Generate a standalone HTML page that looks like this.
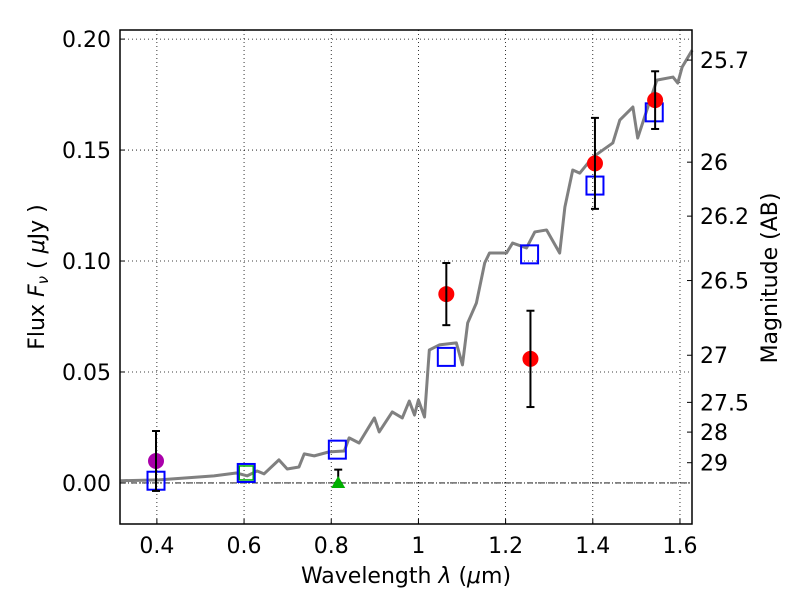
<!DOCTYPE html>
<html><head><meta charset="utf-8"><style>
body{margin:0;background:#fff}
svg{display:block;font-family:"DejaVu Sans","Liberation Sans",sans-serif}
</style></head><body>
<svg id="chart" width="800" height="600" viewBox="0 0 800 600" xmlns="http://www.w3.org/2000/svg">
<rect x="0" y="0" width="800" height="600" fill="#fff"/>
<g id="grid"></g>
<g id="plot"></g>
<g id="axes"></g>
<text x="406" y="583" font-size="22" text-anchor="middle">Wavelength  <tspan font-style="italic">λ</tspan> (<tspan font-style="italic">μ</tspan>m)</text>
<text transform="translate(44,277) rotate(-90)" font-size="22" text-anchor="middle">Flux  <tspan font-style="italic">F</tspan><tspan font-style="italic" font-size="15" dy="4">ν</tspan><tspan dy="-4">  ( </tspan><tspan font-style="italic">μ</tspan>Jy )</text>
<text transform="translate(777,278) rotate(-90)" font-size="22" text-anchor="middle">Magnitude (AB)</text>
</svg>
<script>
const xTicks=[0.4,0.6,0.8,1.0,1.2,1.4,1.6];
const xTickLabels=["0.4","0.6","0.8","1","1.2","1.4","1.6"];
const yTicks=[0,0.05,0.10,0.15,0.20];
const yTickLabels=["0.00","0.05","0.10","0.15","0.20"];
const magTicks=[25.7,26,26.2,26.5,27,27.5,28,29];
const magTickLabels=["25.7","26","26.2","26.5","27","27.5","28","29"];
const specLam=[0.317,0.405,0.531,0.582,0.607,0.630,0.646,0.680,0.699,0.726,0.738,0.761,0.795,0.830,0.841,0.864,0.899,0.910,0.940,0.963,0.979,0.991,1.000,1.014,1.025,1.048,1.087,1.101,1.113,1.133,1.152,1.163,1.202,1.216,1.248,1.267,1.294,1.324,1.336,1.354,1.370,1.400,1.446,1.462,1.492,1.503,1.524,1.547,1.584,1.595,1.605,1.628];
const specFlux=[0.001,0.0014,0.0032,0.0045,0.0032,0.0054,0.0041,0.0104,0.0063,0.0072,0.0131,0.0122,0.0140,0.0144,0.0203,0.0180,0.0293,0.0230,0.0320,0.0293,0.0369,0.0306,0.0374,0.0297,0.0599,0.0622,0.0631,0.0532,0.0721,0.0811,0.0991,0.1036,0.1036,0.1081,0.1059,0.1131,0.1140,0.1036,0.1243,0.1410,0.1396,0.1468,0.1532,0.1635,0.1694,0.1554,0.1680,0.1815,0.1829,0.1802,0.1874,0.1950];
const modelLam=[0.398,0.605,0.814,1.064,1.255,1.405,1.541];
const modelFlux=[0.001,0.0045,0.015,0.0568,0.103,0.134,0.167];
const obsLam=[1.064,1.257,1.405,1.543];
const obsFlux=[0.0851,0.0559,0.144,0.1725];
const obsErr=[0.014,0.0217,0.0205,0.013];
const uLam=[0.398];const uFlux=[0.0099];const uErr=[0.0135];
const gLam=[0.816];const gFlux=[0.0];const gErrUp=[0.006];
const gsLam=[0.605];const gsFlux=[0.0045];

const L=120,R=692,T=30,B=524;
const xMin=0.3154,xMax=1.6276,yMin=-0.0185,yMax=0.2041;
const X=v=>L+(v-xMin)/(xMax-xMin)*(R-L);
const Y=v=>B-(v-yMin)/(yMax-yMin)*(B-T);
const NS="http://www.w3.org/2000/svg";
function mk(tag,attrs,parent){const e=document.createElementNS(NS,tag);for(const k in attrs)e.setAttribute(k,attrs[k]);parent.appendChild(e);return e;}
const grid=document.getElementById('grid'),plot=document.getElementById('plot'),axes=document.getElementById('axes');

xTicks.forEach((t,i)=>{
 const gl=mk('line',{x1:X(t),x2:X(t),y1:T,y2:B,stroke:'#000','stroke-width':0.8,'stroke-dasharray':'1,3'},grid);
 
 
 const tk=mk('line',{x1:X(t),x2:X(t),y1:B,y2:B-5,stroke:'#000'},axes);
 
 
 const tx=mk('text',{x:X(t),y:B+29,'font-size':22,'text-anchor':'middle'},axes);
 tx.textContent=xTickLabels[i];
 
 
});
yTicks.forEach((t,i)=>{
 const gl=mk('line',{x1:L,x2:R,y1:Y(t),y2:Y(t),stroke:'#000','stroke-width':0.8,'stroke-dasharray':'1,3'},grid);
 
 
 const tk=mk('line',{x1:L,x2:L+5,y1:Y(t),y2:Y(t),stroke:'#000'},axes);
 
 
 const tx=mk('text',{x:L-9,y:Y(t)+8,'font-size':22,'text-anchor':'end'},axes);
 tx.textContent=yTickLabels[i];
 
 
});
magTicks.forEach((m,i)=>{
 const f=Math.pow(10,(23.9-m)/2.5);
 const tk=mk('line',{x1:R-5,x2:R,y1:Y(f),y2:Y(f),stroke:'#000'},axes);
 
 
 const tx=mk('text',{x:R+8,y:Y(f)+8,'font-size':22},axes);
 tx.textContent=magTickLabels[i];
 
 
});
const zl=mk('line',{x1:L,x2:R,y1:Y(0),y2:Y(0),stroke:'#000','stroke-width':0.8,'stroke-dasharray':'6,2,1,2'},grid);



const sp=mk('polyline',{points:specLam.map((l,i)=>X(l)+','+Y(specFlux[i])).join(' '),fill:'none',stroke:'#808080','stroke-width':3,'stroke-linejoin':'round'},plot);



function errbar(l,lo,hi,name){
 const g=mk('g',{stroke:'#000','stroke-width':2},plot);
 
 
 mk('line',{x1:X(l),x2:X(l),y1:Y(lo),y2:Y(hi)},g);
 mk('line',{x1:X(l)-4,x2:X(l)+4,y1:Y(lo),y2:Y(lo)},g);
 mk('line',{x1:X(l)-4,x2:X(l)+4,y1:Y(hi),y2:Y(hi)},g);
}
gsLam.forEach((l,i)=>{
 const r=mk('rect',{x:X(l)-7,y:Y(gsFlux[i])-7,width:14,height:14,fill:'none',stroke:'#00b000','stroke-width':1.5},plot);
 
 
});
modelLam.forEach((l,i)=>{
 const r=mk('rect',{x:X(l)-8.5,y:Y(modelFlux[i])-9,width:17,height:18,fill:'none',stroke:'#0000ff','stroke-width':2},plot);
 
 
});
uLam.forEach((l,i)=>{
 const c=mk('circle',{cx:X(l),cy:Y(uFlux[i]),r:8,fill:'#aa00aa'},plot);
 
 
 errbar(l,uFlux[i]-uErr[i],uFlux[i]+uErr[i],'u-band-error-bar');
});
gLam.forEach((l,i)=>{
 errbar(l,gFlux[i],gFlux[i]+gErrUp[i],'upper-limit-error-bar');
 const x=X(l),y=Y(gFlux[i]);
 const p=mk('polygon',{points:`${x},${y-7} ${x-7},${y+5} ${x+7},${y+5}`,fill:'#00b000'},plot);
 
 
});
obsLam.forEach((l,i)=>{
 const c=mk('circle',{cx:X(l),cy:Y(obsFlux[i]),r:8,fill:'#ff0000'},plot);
 
 
 errbar(l,obsFlux[i]-obsErr[i],obsFlux[i]+obsErr[i],'observed-error-bar');
});
const fr=mk('rect',{x:L,y:T,width:R-L,height:B-T,fill:'none',stroke:'#000','stroke-width':1.5},axes);


</script>
</body></html>
